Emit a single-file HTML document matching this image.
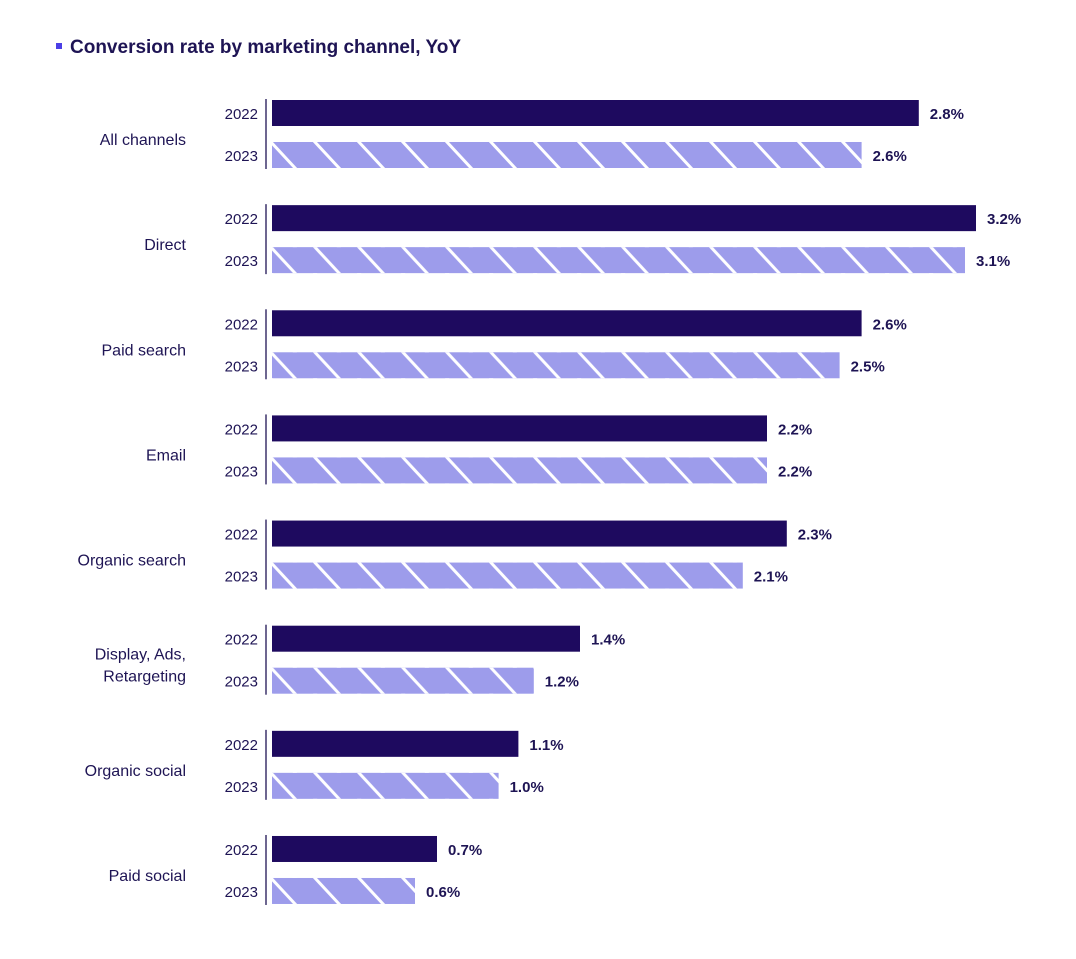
<!DOCTYPE html>
<html><head><meta charset="utf-8"><style>
body{margin:0;background:#fff;width:1076px;height:954px;overflow:hidden;font-family:"Liberation Sans",sans-serif;}
svg text{font-family:"Liberation Sans",sans-serif;}
</style></head><body>
<svg id="chart" width="1076" height="954">
<defs>
<pattern id="hatch" patternUnits="userSpaceOnUse" width="44" height="26" x="272" y="0">
<rect width="44" height="26" fill="#9d9ceb"/>
<path d="M-2,-1 L24,27 M42,-1 L68,27 M-46,-1 L-20,27" stroke="#fff" stroke-width="3"/>
</pattern>
</defs>
<rect x="56" y="43" width="6" height="6" fill="#4b3fe6"/>
<text x="70" y="53" font-size="19" font-weight="bold" fill="#1e1454">Conversion rate by marketing channel, YoY</text>
</svg>
<script>
const categories=[["All channels"],["Direct"],["Paid search"],["Email"],["Organic search"],["Display, Ads,","Retargeting"],["Organic social"],["Paid social"]];
const years=["2022","2023"];
const values2022=[2.94,3.2,2.68,2.25,2.34,1.40,1.12,0.75];
const values2023=[2.68,3.15,2.58,2.25,2.14,1.19,1.03,0.65];
const labels2022=["2.8%","3.2%","2.6%","2.2%","2.3%","1.4%","1.1%","0.7%"];
const labels2023=["2.6%","3.1%","2.5%","2.2%","2.1%","1.2%","1.0%","0.6%"];
const svg=document.getElementById('chart');
const NS='http://www.w3.org/2000/svg';
const x0=272, pxPer=220;
const xs=v=>v*pxPer;
const gy=i=>100+i*105.14;
function mk(tag,attrs,txt){const e=document.createElementNS(NS,tag);for(const k in attrs)e.setAttribute(k,attrs[k]);if(txt!=null)e.textContent=txt;svg.appendChild(e);return e;}
categories.forEach((cat,i)=>{
  const y=gy(i);
  const ax=mk('line',{x1:266,x2:266,y1:y-1,y2:y+69,stroke:'#1e1454','stroke-width':1.3});
  
  
  const cy=y+45-(cat.length-1)*11;
  cat.forEach((ln,j)=>{
    const t=mk('text',{x:186,y:cy+j*22,'text-anchor':'end','font-size':16,fill:'#1e1454'},ln);
    
    
  });
  [[values2022,labels2022,'#1e0a5f',0],[values2023,labels2023,'url(#hatch)',42]].forEach((s,k)=>{
    const by=y+s[3];
    const yl=mk('text',{x:258,y:by+19,'text-anchor':'end','font-size':15,fill:'#1e1454'},years[k]);
    
    
    const w=xs(s[0][i]);
    const r=mk('rect',{x:x0,y:by,width:w,height:26,fill:s[2]});
    if(k===1) r.setAttribute('transform','');
    
    
    const vl=mk('text',{x:x0+w+11,y:by+19,'font-size':15,'font-weight':'bold',fill:'#1e1454'},s[1][i]);
    
    
  });
});
// align hatch pattern per bar row
document.querySelectorAll('rect[fill="url(#hatch)"]').forEach((r,i)=>{
  const y=+r.getAttribute('y');
  const p=document.getElementById('hatch').cloneNode(true);
  p.id='hatch'+i;p.setAttribute('y',y);
  svg.querySelector('defs').appendChild(p);
  r.setAttribute('fill','url(#hatch'+i+')');
});
</script>
</body></html>
